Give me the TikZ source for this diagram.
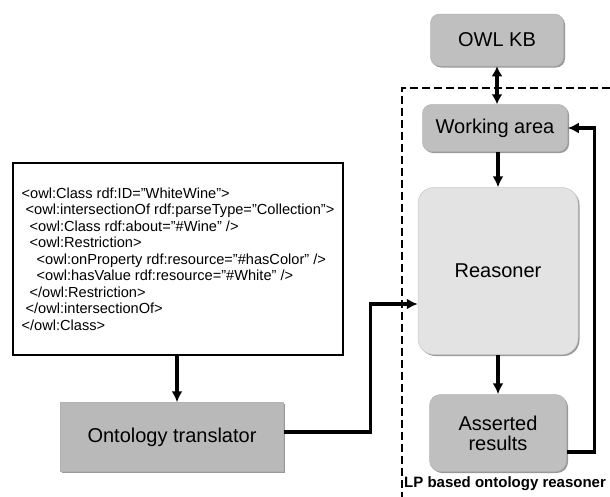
\documentclass[tikz,border=0pt]{standalone}
\usepackage{fontspec}
\setmainfont{Liberation Sans}
\usetikzlibrary{arrows.meta}
\usetikzlibrary{shadows}
\tikzset{
	blk/.style={fill=gray!50,draw=gray!60,line width=0.5pt,rounded corners=9pt,font=\fontsize{20}{22}\selectfont,align=center,inner sep=0pt,
		drop shadow={shadow xshift=1.5pt,shadow yshift=-1.5pt,fill=gray!80,opacity=1}},
	arr/.style={line width=3.2pt,-{Latex[length=11pt,width=11pt]}},
	darr/.style={line width=3.2pt,{Latex[length=10pt,width=11pt]}-{Latex[length=10pt,width=11pt]}},
}

\begin{document}
\begin{tikzpicture}[x=1pt,y=-1pt]
	\useasboundingbox (0,0) rectangle (610,496);
	%\draw[help lines] (0,0) grid[step=50] (610,496);
	\node[blk,minimum width=133,minimum height=52] (kb) at (497,40) {OWL KB};
	\node[blk,minimum width=145,minimum height=47] (work) at (495,128) {Working area};
	\node[blk,fill=gray!22,draw=gray!45,rounded corners=16pt,minimum width=160,minimum height=167] (reas) at (498,271) {Reasoner};
	\node[blk,minimum width=137,minimum height=77,rounded corners=11pt] (asrt) at (498,433) {Asserted\\[-2pt]results};
	\node[blk,rounded corners=0pt,fill=gray!55,minimum width=223,minimum height=69] (trans) at (172,437) {Ontology translator};
	\node[draw,line width=1.6pt,minimum width=330,minimum height=192,align=left,inner sep=0pt,
		font=\fontsize{14.6}{16.5}\selectfont] (code) at (178,259)
		{<owl:Class rdf:ID="WhiteWine">\\
		\hspace{4pt}<owl:intersectionOf rdf:parseType="Collection">\\
		\hspace{8pt}<owl:Class rdf:about="\#Wine" />\\
		\hspace{8pt}<owl:Restriction>\\
		\hspace{15pt}<owl:onProperty rdf:resource="\#hasColor" />\\
		\hspace{15pt}<owl:hasValue rdf:resource="\#White" />\\
		\hspace{8pt}</owl:Restriction>\\
		\hspace{4pt}</owl:intersectionOf>\\
		</owl:Class>};
	\draw[line width=2pt,dash pattern=on 8pt off 4pt] (402,500) -- (402,88) -- (615,88);
	\node[anchor=west,inner sep=0pt,font=\fontsize{15}{17}\bfseries] (lp) at (404,484) {LP based ontology reasoner};
	\draw[darr] (kb.south) -- (work.north-|kb.south);
	\draw[arr] (work.south-|reas.north) -- (reas.north);
	\draw[arr] (reas.south) -- (asrt.north);
	\draw[arr] (code.south-|177,0) -- (trans.north-|177,0);
	\draw[arr] ([yshift=5pt]trans.east) -- ++(87,0) |- ([yshift=-33pt]reas.west);
	\draw[arr] ([yshift=-19pt]asrt.east) -- ++(28,0) |- (work.east);
\end{tikzpicture}
\end{document}
